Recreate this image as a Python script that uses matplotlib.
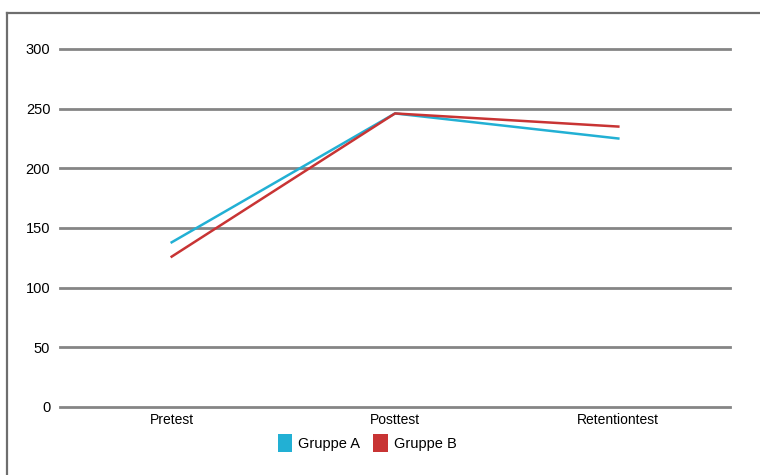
import matplotlib.pyplot as plt
from matplotlib.patches import Patch
from matplotlib.lines import Line2D

plt.rcParams['font.family'] = ['Liberation Sans', 'DejaVu Sans']

phases = ['Pretest', 'Posttest', 'Retentiontest']
gruppe_a = [138, 246, 225]
gruppe_b = [126, 246, 235]
yticks = [0, 50, 100, 150, 200, 250, 300]

col_a = '#22b0d4'
col_b = '#c83434'

fig = plt.figure(figsize=(7.6, 4.75), dpi=100)
fig.patch.set_facecolor('white')

# outer frame (top and left edges)
fig.add_artist(Line2D([7/760, 1.0], [1 - 13/475, 1 - 13/475], color='#6e6e6e', lw=1.6))
fig.add_artist(Line2D([7/760, 7/760], [0, 1 - 13/475], color='#6e6e6e', lw=1.6))

ax = fig.add_axes([60/760, 1 - 407/475, 670/760, (407 - 49)/475])
x = range(len(phases))
ax.plot(x, gruppe_a, color=col_a, lw=1.8, label='Gruppe A')
ax.plot(x, gruppe_b, color=col_b, lw=1.8, label='Gruppe B')

ax.set_xlim(-0.5, 2.5)
ax.set_ylim(0, 300)
ax.set_yticks(yticks)
ax.set_xticks(list(x))
ax.set_xticklabels(phases, fontsize=10)
ax.tick_params(axis='y', labelsize=10.5, length=0, pad=7)
ax.tick_params(axis='x', length=0, pad=4)
for s in ax.spines.values():
    s.set_visible(False)
ax.grid(axis='y', color='#858585', lw=2)
for gl in ax.get_ygridlines():
    gl.set_clip_on(False)
ax.set_axisbelow(True)

handles = [Patch(facecolor=col_a, label='Gruppe A'), Patch(facecolor=col_b, label='Gruppe B')]
fig.legend(handles=handles, loc='center', bbox_to_anchor=(367/760, 1 - 443/475), ncol=2,
           frameon=False, fontsize=10.5, handlelength=1.0, handleheight=1.6,
           handletextpad=0.4, columnspacing=0.9)

fig.savefig('out.png', dpi=100)
